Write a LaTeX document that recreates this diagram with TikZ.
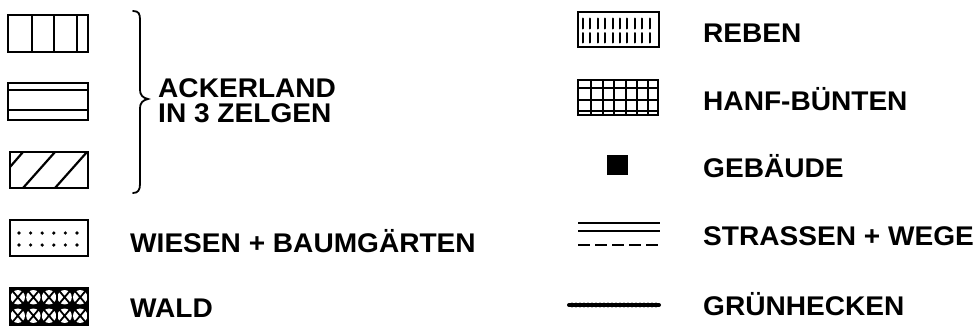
\documentclass[tikz,border=0pt]{standalone}
\usepackage{fontspec}
\setmainfont{Liberation Sans}[FakeStretch=1.04]
\begin{document}
\begin{tikzpicture}[x=1pt,y=-1pt,
  frame/.style={line width=2.6pt},
  inner/.style={line width=2.2pt},
  lbl/.style={anchor=base west,inner sep=0pt,font=\fontsize{27}{25.5}\selectfont\bfseries},
  stroke/.style={line width=2pt,line cap=round}]
\useasboundingbox (0,0) rectangle (973,327);
% Box 1: vertical divisions
\draw[frame] (8,15) rectangle (88,52);
\foreach \x in {32,54,77} \draw[inner] (\x,15) -- (\x,52);
% Box 2: horizontal divisions
\draw[frame] (8,83) rectangle (88,120);
\foreach \y in {90,110} \draw[inner] (8,\y) -- (88,\y);
% Box 3: diagonal hatch
\draw[frame] (10,152) rectangle (88,188);
\draw[inner] (10,167) -- (23,152);
\draw[inner] (23,188) -- (55,152);
\draw[inner] (55,188) -- (87,152);
% Box 4: dots
\draw[frame] (10,220) rectangle (88,256);
\foreach \x in {19,30.6,42.2,53.8,65.4,77} \foreach \y in {233,245} \fill (\x,\y) circle (1.8);
% Box 5: forest
\begin{scope}
\clip (10,288) rectangle (88,325);
\fill[black] (10,288) rectangle (88,325);
\foreach \i in {0,...,4} {
  \pgfmathsetmacro{\xa}{10+\i*15.6}
  \pgfmathsetmacro{\xb}{\xa+15.6}
  \pgfmathsetmacro{\xm}{\xa+7.8}
  \foreach \ya/\yb in {288/306.5,306.5/325} {
    \fill[white] (\xm,\ya+9.25) circle (7.2);
    \draw[line width=1.8pt] (\xa,\ya) -- (\xb,\yb) (\xa,\yb) -- (\xb,\ya);
  }
}
\foreach \x in {25.6,41.2,56.8,72.4} \draw[line width=1.4pt] (\x,288) -- (\x,325);
\draw[line width=1.4pt] (10,306.5) -- (88,306.5);
\end{scope}
\draw[frame] (10,288) rectangle (88,325);
% Brace
\draw[line width=1.8pt,line cap=round] (133,11) .. controls (139,11) and (140,14) .. (140,20)
  -- (140,90) .. controls (140,95) and (143,98) .. (148,99)
  .. controls (143,100) and (140,103) .. (140,108)
  -- (140,184) .. controls (140,190) and (138,193) .. (133,193);
% Left labels
\node[lbl,anchor=north west,align=left] (acker) at (158,78) {ACKERLAND\\IN 3 ZELGEN};
\node[lbl] (wiesen) at (130,252) {WIESEN + BAUMGÄRTEN};
\node[lbl] (wald) at (130,317) {WALD};
% Reben
\draw[frame] (578,12) rectangle (659,47);
\foreach \i in {0,...,9} {
  \pgfmathsetmacro{\xs}{583+\i*7.4}
  \draw[stroke] (\xs,18.5) -- (\xs,28.5);
  \draw[stroke] (\xs,33) -- (\xs,42.5);
}
% Hanf grid
\draw[frame] (578,80) rectangle (658,115);
\foreach \x in {591,603,614,626,637,648} \draw[inner] (\x,80) -- (\x,115);
\foreach \y in {88.3,100,110.7} \draw[inner] (578,\y) -- (658,\y);
% Gebaeude
\fill (607,155) rectangle (628,175);
% Strassen
\draw[line width=2.4pt] (578,223) -- (660,223);
\draw[line width=2.4pt] (578,231) -- (660,231);
\draw[line width=2.4pt,dash pattern=on 12pt off 5pt] (578,245) -- (660,245);
% Gruenhecken
\draw[line width=4pt,line cap=round] (569,305) -- (659,305);
\foreach \x in {572,576,...,656} \fill (\x,305) circle (2.4);
% Right labels
\node[lbl] (reben) at (703,42) {REBEN};
\node[lbl] (hanf) at (703,110) {HANF-BÜNTEN};
\node[lbl] (geb) at (703,177) {GEBÄUDE};
\node[lbl] (str) at (703,245) {STRASSEN + WEGE};
\node[lbl] (gruen) at (703,315) {GRÜNHECKEN};
\end{tikzpicture}
\end{document}
